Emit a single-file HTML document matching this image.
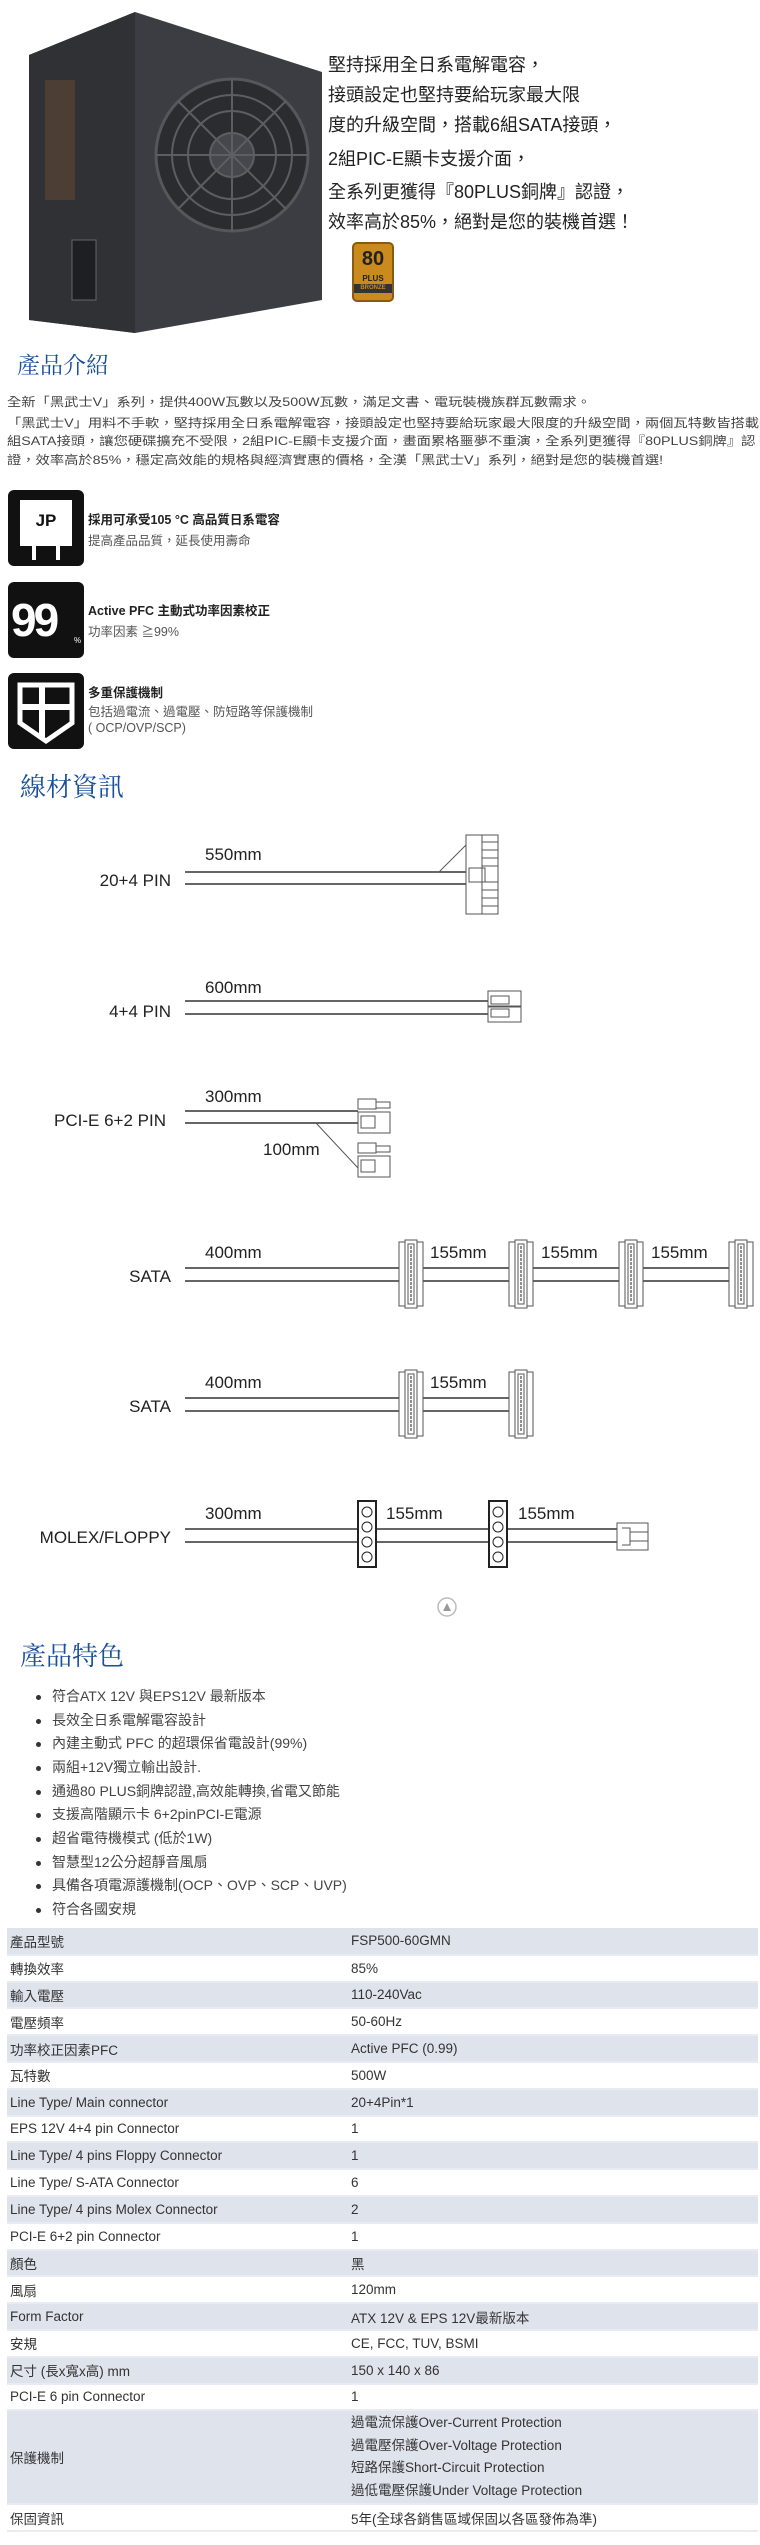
<!DOCTYPE html>
<html><head><meta charset="utf-8">
<style>
*{margin:0;padding:0;box-sizing:border-box}
body{width:760px;height:2545px;position:relative;background:#fff;font-family:"Liberation Sans","Noto Sans CJK TC",sans-serif;color:#333;overflow:hidden}
.a{position:absolute;white-space:nowrap}
.h{font-family:"Liberation Serif","Noto Serif CJK SC",serif;color:#1a4f9c}
.top{font-size:18px;color:#222;left:328px}
.p{left:7px;font-size:12px;color:#444;transform:scaleX(1.19);transform-origin:0 0}
.t{left:88px;font-size:12.5px;font-weight:bold;color:#222}
.s{left:88px;font-size:12.5px;color:#555}
.ic{position:absolute;left:8px;width:76px;height:76px;background:#111;border-radius:6px}
.f{left:36px;font-size:14px;color:#444}
.f b{display:inline-block;width:5px;height:5px;border-radius:50%;background:#333;margin-right:11px;vertical-align:middle}
table{position:absolute;left:7px;top:1928px;width:751px;border-collapse:collapse;font-family:"Liberation Sans","Noto Sans CJK TC",sans-serif;font-size:13.5px;color:#333}
td{height:26.8px;padding:0 3px;border-bottom:2px solid #e8ecf2;vertical-align:middle}
tr:nth-child(odd) td{background:#dfe4ec}
td:first-child{width:341px}
</style></head><body>

<!-- PSU image -->
<svg class="a" style="left:0;top:0" width="330" height="340">
<polygon points="29,55 135,12 322,72 322,300 135,333 29,320" fill="#3b3d42"/>
<polygon points="29,55 135,12 135,333 29,320" fill="#2f3135"/>
<circle cx="232" cy="155" r="76" fill="#2a2c30" stroke="#55575c" stroke-width="3"/>
<circle cx="232" cy="155" r="60" fill="none" stroke="#5c5e63" stroke-width="2"/>
<circle cx="232" cy="155" r="44" fill="none" stroke="#5c5e63" stroke-width="2"/>
<circle cx="232" cy="155" r="22" fill="#45474c" stroke="#5c5e63" stroke-width="2"/>
<line x1="156" y1="155" x2="308" y2="155" stroke="#5c5e63" stroke-width="2"/>
<line x1="232" y1="79" x2="232" y2="231" stroke="#5c5e63" stroke-width="2"/>
<line x1="178" y1="101" x2="286" y2="209" stroke="#5c5e63" stroke-width="2"/>
<line x1="286" y1="101" x2="178" y2="209" stroke="#5c5e63" stroke-width="2"/>
<rect x="72" y="240" width="24" height="60" fill="#1e1f22" stroke="#666"/>
<rect x="45" y="80" width="30" height="120" fill="#6a4a35" opacity=".5"/>
</svg>
<div class="a top" style="top:51px">堅持採用全日系電解電容，</div>
<div class="a top" style="top:81px">接頭設定也堅持要給玩家最大限</div>
<div class="a top" style="top:111px">度的升級空間，搭載6組SATA接頭，</div>
<div class="a top" style="top:145px">2組PIC-E顯卡支援介面，</div>
<div class="a top" style="top:178px">全系列更獲得『80PLUS銅牌』認證，</div>
<div class="a top" style="top:208px">效率高於85%，絕對是您的裝機首選！</div>
<div class="a" style="left:352px;top:242px;width:42px;height:60px;background:#c98a1e;border-radius:5px;border:2px solid #8a5a10;text-align:center;color:#222;font-weight:bold;font-size:20px;line-height:30px">80<div style="font-size:8px;line-height:10px">PLUS</div><div style="font-size:6px;line-height:9px;background:#333;color:#c98a1e">BRONZE</div></div>

<div class="a h" style="left:17px;top:347px;font-size:23px">產品介紹</div>
<div class="a p" style="top:393px">全新「黑武士V」系列，提供400W瓦數以及500W瓦數，滿足文書、電玩裝機族群瓦數需求。</div>
<div class="a p" style="top:414px">「黑武士V」用料不手軟，堅持採用全日系電解電容，接頭設定也堅持要給玩家最大限度的升級空間，兩個瓦特數皆搭載6</div>
<div class="a p" style="top:432px">組SATA接頭，讓您硬碟擴充不受限，2組PIC-E顯卡支援介面，畫面累格噩夢不重演，全系列更獲得『80PLUS銅牌』認</div>
<div class="a p" style="top:451px">證，效率高於85%，穩定高效能的規格與經濟實惠的價格，全漢「黑武士V」系列，絕對是您的裝機首選!</div>

<div class="ic" style="top:490px"><div style="position:absolute;left:12px;top:10px;width:52px;height:42px;background:#fff;color:#111;font-weight:bold;font-size:17px;text-align:center;line-height:42px">JP</div><div style="position:absolute;left:24px;top:52px;width:4px;height:18px;background:#fff"></div><div style="position:absolute;left:48px;top:52px;width:4px;height:18px;background:#fff"></div><div style="position:absolute;left:12px;top:52px;width:52px;height:4px;background:#fff"></div></div>
<div class="a t" style="top:509px">採用可承受105 °C 高品質日系電容</div>
<div class="a s" style="top:530px">提高產品品質，延長使用壽命</div>

<div class="ic" style="top:582px"><div style="position:absolute;left:3px;top:12px;color:#fff;font-weight:bold;font-size:46px;line-height:52px;letter-spacing:-3px">99</div><div style="position:absolute;left:66px;top:54px;color:#fff;font-size:8px">%</div></div>
<div class="a t" style="top:600px">Active PFC 主動式功率因素校正</div>
<div class="a s" style="top:621px">功率因素 ≧99%</div>

<div class="ic" style="top:673px"><svg width="76" height="76"><path d="M12 12 L64 12 L64 50 L38 68 L12 50 Z" fill="none" stroke="#fff" stroke-width="5"/><line x1="34" y1="12" x2="34" y2="64" stroke="#fff" stroke-width="6"/><line x1="12" y1="34" x2="64" y2="34" stroke="#fff" stroke-width="6"/></svg></div>
<div class="a t" style="top:682px">多重保護機制</div>
<div class="a s" style="top:701px">包括過電流、過電壓、防短路等保護機制</div>
<div class="a s" style="top:721px">( OCP/OVP/SCP)</div>

<div class="a h" style="left:20px;top:767px;font-size:26px">線材資訊</div>

<!-- Cable diagram -->
<svg class="a" style="left:0;top:820px" width="760" height="800" font-family="Liberation Sans, sans-serif" font-size="17" fill="#222">
<g stroke="#333" stroke-width="1.5">
<line x1="185" y1="52" x2="466" y2="52"/><line x1="185" y1="64" x2="466" y2="64"/>
<line x1="185" y1="181" x2="488" y2="181"/><line x1="185" y1="194" x2="488" y2="194"/>
<line x1="185" y1="291" x2="358" y2="291"/><line x1="185" y1="303" x2="358" y2="303"/>
<line x1="185" y1="448" x2="732" y2="448"/><line x1="185" y1="461" x2="732" y2="461"/>
<line x1="185" y1="578" x2="511" y2="578"/><line x1="185" y1="591" x2="511" y2="591"/>
<line x1="185" y1="709" x2="617" y2="709"/><line x1="185" y1="722" x2="617" y2="722"/>
</g>
<g fill="none" stroke="#555" stroke-width="1">
<line x1="439" y1="52" x2="466" y2="25"/>
<rect x="466" y="15" width="32" height="79" fill="#fff"/>
<line x1="482" y1="15" x2="482" y2="94"/>
<rect x="469" y="48" width="16" height="14"/>
<path d="M482 22h16M482 30h16M482 38h16M482 46h16M482 62h16M482 70h16M482 78h16M482 86h16"/>
<rect x="488" y="171" width="33" height="15" fill="#fff"/><rect x="491" y="176" width="18" height="8"/>
<rect x="488" y="187" width="33" height="15" fill="#fff"/><rect x="491" y="189" width="18" height="8"/>
<line x1="316" y1="303" x2="358" y2="348"/>
<rect x="358" y="279" width="18" height="10" fill="#fff"/><rect x="376" y="282" width="14" height="6"/>
<rect x="358" y="292" width="32" height="21" fill="#fff"/><rect x="361" y="296" width="14" height="12"/>
<rect x="358" y="323" width="18" height="10" fill="#fff"/><rect x="376" y="326" width="14" height="6"/>
<rect x="358" y="336" width="32" height="21" fill="#fff"/><rect x="361" y="340" width="14" height="12"/>
</g>
<g fill="#fff" stroke="#555" stroke-width="1">
<g id="sc"><rect x="399" y="422" width="24" height="64"/><rect x="405" y="420" width="12" height="68"/><rect x="408" y="424" width="6" height="60"/><line x1="411" y1="426" x2="411" y2="482" stroke="#222" stroke-dasharray="3,1"/></g>
<use href="#sc" x="110"/><use href="#sc" x="220"/><use href="#sc" x="330"/>
<use href="#sc" y="130"/><use href="#sc" x="110" y="130"/>
</g>
<g fill="#fff" stroke="#222" stroke-width="2">
<g id="mx"><rect x="358" y="681" width="18" height="66"/><circle cx="367" cy="692" r="5" stroke-width="1"/><circle cx="367" cy="707" r="5" stroke-width="1"/><circle cx="367" cy="722" r="5" stroke-width="1"/><circle cx="367" cy="737" r="5" stroke-width="1"/></g>
<use href="#mx" x="131"/>
</g>
<g fill="#fff" stroke="#555" stroke-width="1"><rect x="617" y="703" width="31" height="27"/><path d="M622 708h8v17h-8M630 712h18M630 721h18"/></g>
<circle cx="447" cy="787" r="9" fill="none" stroke="#bbb" stroke-width="1.5"/><path d="M443 791l4-8 4 8z" fill="#999"/>
<text x="205" y="40">550mm</text>
<text x="171" y="66" text-anchor="end">20+4 PIN</text>
<text x="205" y="173">600mm</text>
<text x="171" y="197" text-anchor="end">4+4 PIN</text>
<text x="205" y="282">300mm</text>
<text x="166" y="306" text-anchor="end">PCI-E 6+2 PIN</text>
<text x="263" y="335">100mm</text>
<text x="205" y="438">400mm</text>
<text x="430" y="438">155mm</text><text x="541" y="438">155mm</text><text x="651" y="438">155mm</text>
<text x="171" y="462" text-anchor="end">SATA</text>
<text x="205" y="568">400mm</text><text x="430" y="568">155mm</text>
<text x="171" y="592" text-anchor="end">SATA</text>
<text x="205" y="699">300mm</text><text x="386" y="699">155mm</text><text x="518" y="699">155mm</text>
<text x="171" y="723" text-anchor="end">MOLEX/FLOPPY</text>
</svg>

<div class="a h" style="left:20px;top:1636px;font-size:26px">產品特色</div>
<div class="a f" style="top:1686px"><b></b>符合ATX 12V 與EPS12V 最新版本</div>
<div class="a f" style="top:1710px"><b></b>長效全日系電解電容設計</div>
<div class="a f" style="top:1733px"><b></b>內建主動式 PFC 的超環保省電設計(99%)</div>
<div class="a f" style="top:1757px"><b></b>兩組+12V獨立輸出設計.</div>
<div class="a f" style="top:1781px"><b></b>通過80 PLUS銅牌認證,高效能轉換,省電又節能</div>
<div class="a f" style="top:1804px"><b></b>支援高階顯示卡 6+2pinPCI-E電源</div>
<div class="a f" style="top:1828px"><b></b>超省電待機模式 (低於1W)</div>
<div class="a f" style="top:1852px"><b></b>智慧型12公分超靜音風扇</div>
<div class="a f" style="top:1875px"><b></b>具備各項電源護機制(OCP、OVP、SCP、UVP)</div>
<div class="a f" style="top:1899px"><b></b>符合各國安規</div>

<table>
<tr><td>產品型號</td><td>FSP500-60GMN</td></tr>
<tr><td>轉換效率</td><td>85%</td></tr>
<tr><td>輸入電壓</td><td>110-240Vac</td></tr>
<tr><td>電壓頻率</td><td>50-60Hz</td></tr>
<tr><td>功率校正因素PFC</td><td>Active PFC (0.99)</td></tr>
<tr><td>瓦特數</td><td>500W</td></tr>
<tr><td>Line Type/ Main connector</td><td>20+4Pin*1</td></tr>
<tr><td>EPS 12V 4+4 pin Connector</td><td>1</td></tr>
<tr><td>Line Type/ 4 pins Floppy Connector</td><td>1</td></tr>
<tr><td>Line Type/ S-ATA Connector</td><td>6</td></tr>
<tr><td>Line Type/ 4 pins Molex Connector</td><td>2</td></tr>
<tr><td>PCI-E 6+2 pin Connector</td><td>1</td></tr>
<tr><td>顏色</td><td>黑</td></tr>
<tr><td>風扇</td><td>120mm</td></tr>
<tr><td>Form Factor</td><td>ATX 12V &amp; EPS 12V最新版本</td></tr>
<tr><td>安規</td><td>CE, FCC, TUV, BSMI</td></tr>
<tr><td>尺寸 (長x寬x高) mm</td><td>150 x 140 x 86</td></tr>
<tr><td>PCI-E 6 pin Connector</td><td>1</td></tr>
<tr><td style="height:94px">保護機制</td><td style="line-height:22.5px">過電流保護Over-Current Protection<br>過電壓保護Over-Voltage Protection<br>短路保護Short-Circuit Protection<br>過低電壓保護Under Voltage Protection</td></tr>
<tr><td>保固資訊</td><td>5年(全球各銷售區域保固以各區發佈為準)</td></tr>
</table>
</body></html>
